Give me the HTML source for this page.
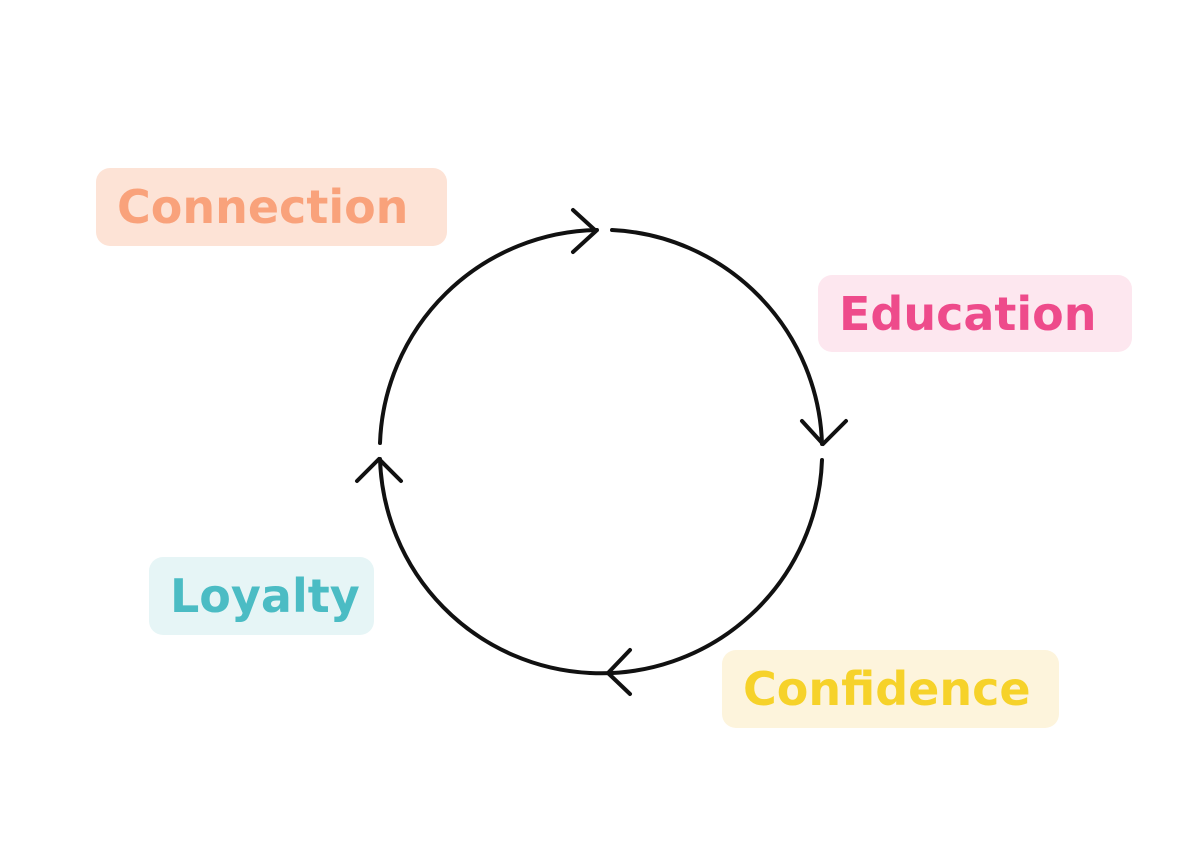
<!DOCTYPE html>
<html><head><meta charset="utf-8"><style>
body{margin:0;width:1200px;height:866px;background:#fff;position:relative;overflow:hidden;font-family:"Liberation Sans",sans-serif}
.b{position:absolute;border-radius:14px;font-weight:bold;font-size:46px;display:flex;align-items:center;box-sizing:border-box;padding-left:21px;padding-top:0px;font-family:"DejaVu Sans","Liberation Sans",sans-serif;letter-spacing:0px}
</style></head><body>
<div class="b" style="left:96px;top:168px;width:351px;height:78px;background:#fde3d6;color:#f9a27b">Connection</div>
<div class="b" style="left:818px;top:275px;width:314px;height:77px;background:#fde7ef;color:#ee4b8b">Education</div>
<div class="b" style="left:722px;top:650px;width:337px;height:78px;background:#fdf4dc;color:#f6d22a">Confidence</div>
<div class="b" style="left:149px;top:557px;width:225px;height:78px;background:#e6f5f6;color:#4bbcc4">Loyalty</div>
<svg width="1200" height="866" style="position:absolute;left:0;top:0" fill="none" stroke="#111" stroke-width="4" stroke-linecap="round" stroke-linejoin="round">
<path d="M380 443 A221 221 0 0 1 597 230"/>
<path d="M573 210 L596 231 L573 252"/>
<path d="M612 230 A221 221 0 0 1 822 444"/>
<path d="M802 421 L823 444 L846 421"/>
<path d="M822 460 A221 221 0 0 1 590 673"/>
<path d="M630 650 L608 673 L630 694"/>
<path d="M590 673 A221 221 0 0 1 380 459"/>
<path d="M357 481 L379 459 L401 481"/>
</svg>
</body></html>
